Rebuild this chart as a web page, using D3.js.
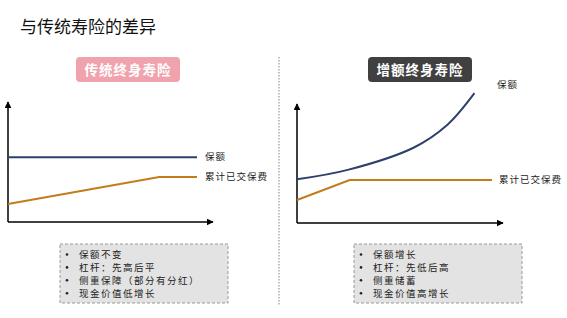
<!DOCTYPE html>
<html>
<head>
<meta charset="utf-8">
<script src="https://cdn.jsdelivr.net/npm/d3@7"></script>
<style>
  body { margin: 0; background: #fff; }
  svg { display: block; }
</style>
</head>
<body>
<script>
// data (x: 0..10 time, y: 0..10 value)
const title = "与传统寿险的差异"
const badges = ["传统终身寿险", "增额终身寿险"]
const seriesNames = ["保额", "累计已交保费"]

const leftCover = [[0, 5.4], [10, 5.4]]
const leftPaid = [[0, 1.5], [8.0, 3.75], [10, 3.75]]
const rightCover = [[0, 3.7], [2.6, 4.5], [6.0, 6.4], [7.7, 8.3], [9.1, 11.0]]
const rightPaid = [[0, 1.95], [2.7, 3.64], [10, 3.64]]

const leftNotes = ["保额不变", "杠杆：先高后平", "侧重保障（部分有分红）", "现金价值低增长"]
const rightNotes = ["保额增长", "杠杆：先低后高", "侧重储蓄", "现金价值高增长"]

const W = 567, H = 318
const blue = "#2f3f6d", orange = "#c27c1c"
const cjk = "'Noto Sans CJK SC', sans-serif"

const svg = d3.select("body").append("svg")
    .attr("width", W)
    .attr("height", H)

svg.append("defs").append("marker")
    .attr("id", "arrow")
    .attr("viewBox", "0 0 10 10")
    .attr("refX", 9).attr("refY", 5)
    .attr("markerWidth", 7).attr("markerHeight", 7)
    .attr("markerUnits", "userSpaceOnUse")
    .attr("orient", "auto")
    .append("path")
    .attr("d", "M0,0L10,5L0,10z")
    .attr("fill", "#000")

svg.append("text")
    .attr("x", 20).attr("y", 33)
    .attr("font-family", cjk)
    .attr("font-size", 17)
    .attr("fill", "#111")
    .text(title)

// divider
svg.append("line")
    .attr("x1", 279).attr("x2", 279)
    .attr("y1", 57).attr("y2", 305)
    .attr("stroke", "#999")
    .attr("stroke-width", 1.2)
    .attr("stroke-dasharray", "1.5,1.5")

function panel(o) {
    const x = d3.scaleLinear().domain([0, 10]).range([o.x0, o.x1])
    const y = d3.scaleLinear().domain([0, 10]).range([o.yb, o.yt])
    const g = svg.append("g")

    // badge
    g.append("rect")
        .attr("x", o.bx).attr("y", 57)
        .attr("width", 104).attr("height", 25)
        .attr("rx", 4)
        .attr("fill", o.bfill)
    g.append("text")
        .attr("x", o.bx + 52).attr("y", 74.5)
        .attr("text-anchor", "middle")
        .attr("font-family", cjk)
        .attr("font-weight", "bold")
        .attr("font-size", 13.5)
        .attr("letter-spacing", 1)
        .attr("fill", "#fff")
        .text(o.badge)

    // axes
    g.append("line")
        .attr("x1", o.x0).attr("y1", o.yb).attr("x2", o.x0).attr("y2", o.ytop)
        .attr("stroke", "#000").attr("stroke-width", 1.5)
        .attr("marker-end", "url(#arrow)")
    g.append("line")
        .attr("x1", o.x0).attr("y1", o.yb).attr("x2", o.xright).attr("y2", o.yb)
        .attr("stroke", "#000").attr("stroke-width", 1.5)
        .attr("marker-end", "url(#arrow)")

    g.append("path")
        .datum(o.cover)
        .attr("d", d3.line().curve(o.curve).x(d => x(d[0])).y(d => y(d[1])))
        .attr("fill", "none").attr("stroke", blue).attr("stroke-width", 2)
    g.append("path")
        .datum(o.paid)
        .attr("d", d3.line().x(d => x(d[0])).y(d => y(d[1])))
        .attr("fill", "none").attr("stroke", orange).attr("stroke-width", 2)

    g.selectAll(".lab")
        .data(o.labels)
        .enter()
        .append("text")
        .attr("x", d => d[0]).attr("y", d => d[1])
        .attr("dy", "0.35em")
        .attr("font-family", cjk)
        .attr("font-size", 9.5)
        .attr("letter-spacing", 1)
        .attr("fill", "#222")
        .text((d, i) => seriesNames[i])

    // notes box
    g.append("rect")
        .attr("x", o.nx).attr("y", 244)
        .attr("width", 168).attr("height", 59)
        .attr("fill", "#e3e3e3")
        .attr("stroke", "#999")
        .attr("stroke-dasharray", "3,2")
    const t = g.selectAll(".note")
        .data(o.notes)
        .enter()
        .append("g")
        .attr("transform", (d, i) => `translate(${o.nx}, ${254.5 + i * 12.9})`)
    t.append("circle")
        .attr("cx", 7).attr("cy", 0).attr("r", 1.3).attr("fill", "#222")
    t.append("text")
        .attr("x", 19).attr("dy", "0.35em")
        .attr("font-family", cjk)
        .attr("font-size", 9.5)
        .attr("letter-spacing", 1.5)
        .attr("fill", "#222")
        .text(d => d)
}

panel({
    x0: 8, x1: 197, xright: 213, yb: 222, yt: 102, ytop: 102,
    bx: 76, bfill: "#f0a3ad", badge: badges[0],
    cover: leftCover, paid: leftPaid, curve: d3.curveLinear,
    labels: [[205, 157], [205, 177]],
    nx: 60, notes: leftNotes
})

panel({
    x0: 297, x1: 492, xright: 503, yb: 223, yt: 105, ytop: 104,
    bx: 368, bfill: "#404040", badge: badges[1],
    cover: rightCover, paid: rightPaid, curve: d3.curveCatmullRom,
    labels: [[497, 85], [499, 180]],
    nx: 354, notes: rightNotes
})
</script>
</body>
</html>
